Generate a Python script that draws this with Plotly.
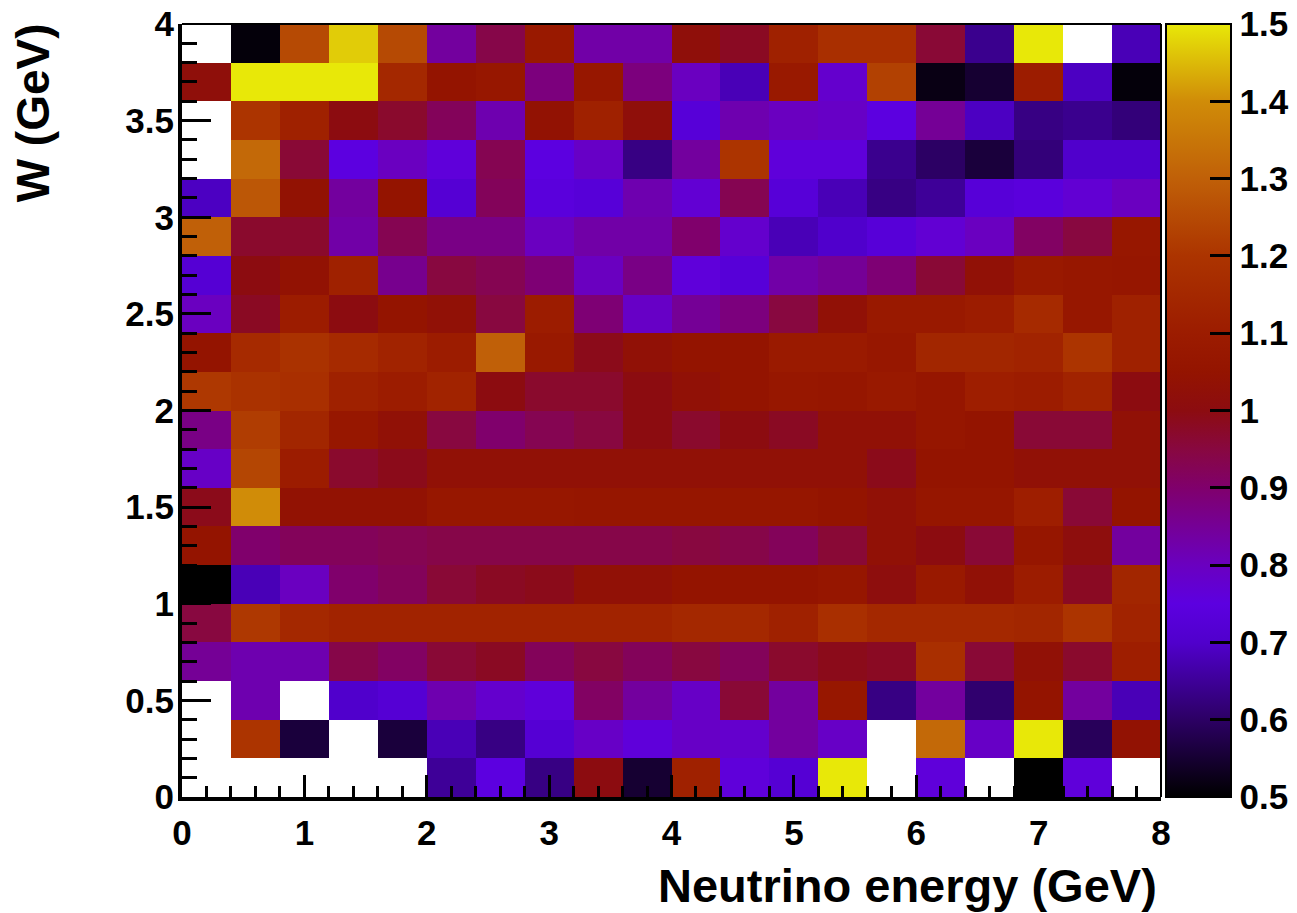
import plotly.graph_objects as go

# Bin layout (histogram binning)
x_min, x_bin = 0.0, 0.4   # Neutrino energy bins (GeV), 20 bins 0-8
y_min, y_bin = 0.0, 0.2   # W bins (GeV), 20 bins 0-4

# Cell values, listed from the top row (W 3.8-4.0) down to the bottom row (W 0-0.2);
# None = empty (white) cell
row_3_8 = [None, 0.51, 1.25, 1.47, 1.25, 0.84, 0.94, 1.08, 0.83, 0.83, 1.02, 0.98, 1.12, 1.18, 1.18, 0.96, 0.64, 1.55, None, 0.68]
row_3_6 = [1.02, 1.55, 1.55, 1.55, 1.15, 1.05, 1.07, 0.88, 1.07, 0.88, 0.80, 0.68, 1.08, 0.78, 1.23, 0.52, 0.55, 1.10, 0.69, 0.51]
row_3_4 = [None, 1.20, 1.12, 1.00, 0.97, 0.92, 0.82, 1.04, 1.12, 1.02, 0.73, 0.82, 0.80, 0.79, 0.75, 0.85, 0.69, 0.63, 0.64, 0.62]
row_3_2 = [None, 1.32, 0.96, 0.75, 0.80, 0.76, 0.93, 0.75, 0.79, 0.63, 0.84, 1.20, 0.76, 0.76, 0.64, 0.60, 0.56, 0.62, 0.70, 0.70]
row_3_0 = [0.69, 1.28, 1.04, 0.84, 1.05, 0.72, 0.92, 0.74, 0.73, 0.82, 0.77, 0.93, 0.73, 0.68, 0.63, 0.65, 0.73, 0.74, 0.77, 0.80]
row_2_8 = [1.30, 0.97, 0.97, 0.83, 0.93, 0.87, 0.87, 0.80, 0.83, 0.83, 0.90, 0.78, 0.68, 0.70, 0.73, 0.77, 0.80, 0.91, 0.95, 1.07]
row_2_6 = [0.72, 1.00, 1.04, 1.12, 0.86, 0.95, 0.93, 0.89, 0.80, 0.87, 0.76, 0.73, 0.83, 0.85, 0.89, 0.96, 1.03, 1.08, 1.07, 1.06]
row_2_4 = [0.80, 0.98, 1.10, 1.00, 1.05, 1.03, 0.95, 1.10, 0.89, 0.79, 0.85, 0.88, 0.95, 1.03, 1.08, 1.08, 1.10, 1.16, 1.07, 1.12]
row_2_2 = [1.05, 1.16, 1.19, 1.16, 1.13, 1.10, 1.30, 1.08, 0.99, 1.03, 1.05, 1.05, 1.09, 1.09, 1.07, 1.14, 1.14, 1.13, 1.20, 1.12]
row_2_0 = [1.21, 1.19, 1.18, 1.12, 1.10, 1.13, 1.00, 0.97, 0.97, 1.00, 1.03, 1.05, 1.07, 1.06, 1.08, 1.06, 1.11, 1.10, 1.13, 1.00]
row_1_8 = [0.87, 1.22, 1.14, 1.07, 1.03, 0.95, 0.90, 0.93, 0.95, 1.00, 0.97, 1.00, 0.98, 1.03, 1.03, 1.06, 1.05, 0.96, 0.96, 1.03]
row_1_6 = [0.79, 1.24, 1.10, 0.97, 0.99, 1.03, 1.03, 1.03, 1.03, 1.03, 1.03, 1.03, 1.03, 1.03, 0.99, 1.05, 1.05, 1.03, 1.03, 1.03]
row_1_4 = [0.99, 1.40, 1.04, 1.04, 1.04, 1.07, 1.07, 1.07, 1.06, 1.06, 1.06, 1.06, 1.06, 1.05, 1.03, 1.06, 1.06, 1.11, 0.96, 1.05]
row_1_2 = [1.05, 0.90, 0.92, 0.92, 0.93, 0.94, 0.94, 0.94, 0.94, 0.94, 0.95, 0.94, 0.92, 0.96, 1.03, 1.00, 0.96, 1.06, 1.01, 0.84]
row_1_0 = [0.50, 0.68, 0.80, 0.90, 0.92, 0.96, 0.98, 0.99, 1.03, 1.03, 1.05, 1.05, 1.05, 1.06, 1.01, 1.08, 1.03, 1.10, 0.98, 1.14]
row_0_8 = [0.95, 1.21, 1.15, 1.13, 1.13, 1.13, 1.13, 1.13, 1.13, 1.13, 1.15, 1.15, 1.12, 1.18, 1.15, 1.15, 1.15, 1.14, 1.20, 1.13]
row_0_6 = [0.85, 0.82, 0.82, 0.94, 0.91, 0.96, 0.98, 0.92, 0.95, 0.92, 0.95, 0.92, 0.97, 0.99, 0.98, 1.18, 0.96, 1.03, 0.97, 1.11]
row_0_4 = [None, 0.82, None, 0.70, 0.72, 0.82, 0.78, 0.76, 0.91, 0.84, 0.79, 0.96, 0.84, 1.07, 0.63, 0.84, 0.61, 1.05, 0.84, 0.68]
row_0_2 = [None, 1.20, 0.56, None, 0.56, 0.68, 0.63, 0.72, 0.79, 0.76, 0.79, 0.78, 0.84, 0.79, None, 1.32, 0.79, 1.55, 0.59, 1.04]
row_0_0 = [None, None, None, None, None, 0.65, 0.75, 0.63, 1.00, 0.55, 1.12, 0.76, 0.72, 1.55, None, 0.76, None, 0.50, 0.76, None]

rows_top_down = [row_3_8, row_3_6, row_3_4, row_3_2, row_3_0, row_2_8, row_2_6, row_2_4, row_2_2, row_2_0,
                 row_1_8, row_1_6, row_1_4, row_1_2, row_1_0, row_0_8, row_0_6, row_0_4, row_0_2, row_0_0]

# Tick labels / spacing
x_tick_vals = [0, 1, 2, 3, 4, 5, 6, 7, 8]
x_tick_text = ["0", "1", "2", "3", "4", "5", "6", "7", "8"]
y_tick_vals = [0, 0.5, 1, 1.5, 2, 2.5, 3, 3.5, 4]
y_tick_text = ["0", "0.5", "1", "1.5", "2", "2.5", "3", "3.5", "4"]
x_minor, y_minor = 0.2, 0.1
cb_tick_vals = [0.5, 0.6, 0.7, 0.8, 0.9, 1.0, 1.1, 1.2, 1.3, 1.4, 1.5]
cb_tick_text = ["0.5", "0.6", "0.7", "0.8", "0.9", "1", "1.1", "1.2", "1.3", "1.4", "1.5"]

z = list(reversed(rows_top_down))

colorscale = [
    [0.00, "#000000"],
    [0.10, "#2c0064"],
    [0.20, "#5000cc"],
    [0.25, "#5c00e0"],
    [0.30, "#6a00c0"],
    [0.40, "#80006c"],
    [0.45, "#880840"],
    [0.50, "#8c0c10"],
    [0.55, "#941400"],
    [0.60, "#9c1c00"],
    [0.70, "#ac3400"],
    [0.80, "#c06008"],
    [0.90, "#d08c08"],
    [1.00, "#e8e808"],
]

FONT = "Liberation Sans"
tickfont = dict(family=FONT, size=35, color="black", weight="bold")

fig = go.Figure()
fig.add_trace(go.Heatmap(
    z=z,
    x0=x_min + x_bin / 2, dx=x_bin,
    y0=y_min + y_bin / 2, dy=y_bin,
    zmin=0.5, zmax=1.5,
    colorscale=colorscale,
    hoverongaps=False,
    colorbar=dict(
        thickness=65, thicknessmode="pixels",
        len=1, lenmode="fraction",
        x=1.005, xanchor="left", xpad=0,
        y=0.5, yanchor="middle", ypad=0,
        outlinewidth=2, outlinecolor="black",
        tickmode="array", tickvals=cb_tick_vals, ticktext=cb_tick_text,
        ticks="inside", ticklen=22, tickwidth=3, tickcolor="black",
        tickfont=tickfont, ticklabeloverflow="allow",
    ),
))
# empty trace on a second (non-overlaying) subplot sharing the same area: it carries the minor ticks
fig.add_trace(go.Scatter(x=[], y=[], xaxis="x2", yaxis="y2", showlegend=False, hoverinfo="skip"))

# The page body adds an 8px offset; the figure is sized to fit the window.
fig.update_layout(
    width=1289, height=905,
    margin=dict(l=174, r=136, t=16, b=116, pad=0, autoexpand=False),
    paper_bgcolor="white", plot_bgcolor="rgba(0,0,0,0)",
    font=dict(family=FONT, color="black"),
    showlegend=False,
    # main axes: line, major ticks and labels
    xaxis=dict(
        domain=[0, 1], range=[0, 8], tickmode="array", tickvals=x_tick_vals, ticktext=x_tick_text,
        ticks="inside", ticklen=22, tickwidth=3, tickcolor="black",
        showline=True, linewidth=4, linecolor="black", layer="above traces",
        showgrid=False, zeroline=False, tickfont=tickfont, ticklabelstandoff=2,
        ticklabeloverflow="allow",
    ),
    yaxis=dict(
        domain=[0, 1], range=[0, 4], tickmode="array", tickvals=y_tick_vals, ticktext=y_tick_text,
        ticks="inside", ticklen=29, tickwidth=3, tickcolor="black",
        showline=True, linewidth=4, linecolor="black", layer="above traces",
        showgrid=False, zeroline=False, tickfont=tickfont, ticklabelstandoff=-3,
        ticklabeloverflow="allow",
    ),
    # second subplot axes (same domain): minor ticks only
    xaxis2=dict(
        domain=[0, 1], anchor="y2", side="bottom", range=[0, 8],
        tickmode="linear", tick0=0, dtick=x_minor,
        ticks="inside", ticklen=11, tickwidth=3, tickcolor="black",
        showticklabels=False, showline=False, showgrid=False, zeroline=False,
        layer="above traces",
    ),
    yaxis2=dict(
        domain=[0, 1], anchor="x2", side="left", range=[0, 4],
        tickmode="linear", tick0=0, dtick=y_minor,
        ticks="inside", ticklen=15, tickwidth=3, tickcolor="black",
        showticklabels=False, showline=False, showgrid=False, zeroline=False,
        layer="above traces",
    ),
    shapes=[
        dict(type="line", xref="paper", yref="paper", x0=0, x1=1, y0=1, y1=1,
             line=dict(color="black", width=2)),
        dict(type="line", xref="paper", yref="paper", x0=1, x1=1, y0=0, y1=1,
             line=dict(color="black", width=2)),
    ],
    annotations=[
        dict(text="Neutrino energy (GeV)", xref="paper", yref="paper",
             x=0.9975, y=-0.114, xanchor="right", yanchor="middle", showarrow=False,
             font=dict(family=FONT, size=47, color="black", weight="bold")),
        dict(text="W (GeV)", xref="paper", yref="paper", textangle=-90,
             x=-0.152, y=1.003, xanchor="center", yanchor="top", showarrow=False,
             font=dict(family=FONT, size=46, color="black", weight="bold")),
    ],
)

fig.write_html("out.html")
